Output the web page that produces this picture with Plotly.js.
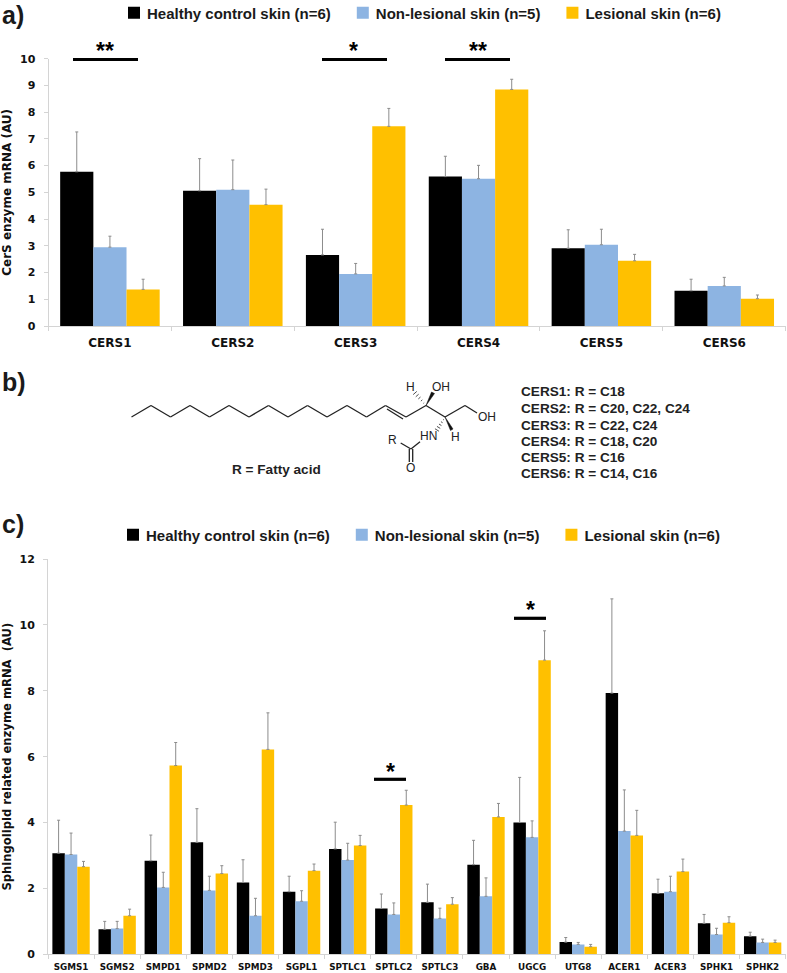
<!DOCTYPE html>
<html><head><meta charset="utf-8">
<script src="https://cdn.plot.ly/plotly-3.0.1.min.js"></script>
<style>html,body{margin:0;padding:0;background:#fff}#c{width:787px;height:973px}</style>
</head><body><div id="c"></div>
<script>
const seriesNames = ['Healthy control skin (n=6)','Non-lesional skin (n=5)','Lesional skin (n=6)'];
const seriesColors = ['#000000','#8DB4E2','#FFC000'];

const cersCategories = ['CERS1','CERS2','CERS3','CERS4','CERS5','CERS6'];
const cersHealthy = [5.77,5.06,2.66,5.59,2.91,1.32];
const cersHealthyTop = [7.26,6.26,3.62,6.35,3.60,1.75];
const cersNonLesional = [2.95,5.10,1.95,5.51,3.04,1.50];
const cersNonLesionalTop = [3.36,6.21,2.34,6.01,3.62,1.82];
const cersLesional = [1.37,4.54,7.47,8.85,2.44,1.02];
const cersLesionalTop = [1.75,5.12,8.14,9.23,2.68,1.16];

const sphCategories = ['SGMS1','SGMS2','SMPD1','SPMD2','SPMD3','SGPL1','SPTLC1','SPTLC2','SPTLC3','GBA','UGCG','UTG8','ACER1','ACER3','SPHK1','SPHK2'];
const sphHealthy = [3.07,0.76,2.84,3.40,2.18,1.90,3.20,1.39,1.58,2.72,4.00,0.37,7.93,1.85,0.94,0.55];
const sphHealthyTop = [4.07,1.00,3.62,4.42,2.87,2.37,4.01,1.83,2.13,3.46,5.37,0.51,10.79,2.28,1.21,0.67];
const sphNonLesional = [3.03,0.78,2.03,1.94,1.17,1.61,2.86,1.21,1.09,1.76,3.55,0.30,3.74,1.90,0.60,0.36];
const sphNonLesionalTop = [3.68,1.00,2.49,2.37,1.70,1.93,3.37,1.56,1.40,2.32,4.05,0.36,4.99,2.37,0.79,0.46];
const sphLesional = [2.66,1.17,5.73,2.45,6.22,2.54,3.30,4.53,1.52,4.17,8.93,0.23,3.61,2.51,0.96,0.36];
const sphLesionalTop = [2.82,1.37,6.43,2.69,7.33,2.74,3.61,4.98,1.72,4.58,9.82,0.30,4.37,2.89,1.14,0.43];

const W = 787, H = 973;
const px = x => x / W, py = y => 1 - y / H;
const sans = 'Liberation Sans, Arial, sans-serif';
const wide = 'DejaVu Sans, sans-serif';

function bars(name, i, cats, vals, tops, xa, ya, legend, show){
  return {type:'bar', name, x:cats, y:vals, xaxis:xa, yaxis:ya, legend, showlegend:show,
    marker:{color:seriesColors[i]},
    error_y:{type:'data', symmetric:false, array:tops.map((t,k)=>+(t-vals[k]).toFixed(2)),
      arrayminus:vals.map(()=>0), color:'#8c8c8c', thickness:1, width:1.5}};
}
const traces = [
  bars(seriesNames[0],0,cersCategories,cersHealthy,cersHealthyTop,'x','y','legend',true),
  bars(seriesNames[1],1,cersCategories,cersNonLesional,cersNonLesionalTop,'x','y','legend',true),
  bars(seriesNames[2],2,cersCategories,cersLesional,cersLesionalTop,'x','y','legend',true),
  bars(seriesNames[0],0,sphCategories,sphHealthy,sphHealthyTop,'x2','y2','legend2',true),
  bars(seriesNames[1],1,sphCategories,sphNonLesional,sphNonLesionalTop,'x2','y2','legend2',true),
  bars(seriesNames[2],2,sphCategories,sphLesional,sphLesionalTop,'x2','y2','legend2',true)
];

const axisBase = {showgrid:false, zeroline:false, showline:true, linecolor:'#d4d4d4', linewidth:1,
  ticks:'outside', ticklen:4, tickcolor:'#d4d4d4', tickwidth:1};

const sigBars = [[73,138,59.5],[322,387,59.5],[445,510,59.5],[374,406,779.3],[514,546,618.3]];
const sigStars = [['**',105,51],['*',353,51],['**',478,51],['*',390,772],['*',530,610]];
const line = (x0,y0,x1,y1,w=1.3,c='#222') => ({type:'line',xref:'paper',yref:'paper',x0:px(x0),y0:py(y0),x1:px(x1),y1:py(y1),line:{color:c,width:w}});
const poly = pts => ({type:'path',xref:'paper',yref:'paper',
  path:'M'+pts.map(p=>px(p[0])+','+py(p[1])).join(' L')+' Z',fillcolor:'#111',line:{color:'#111',width:0.5}});

const chainX = [131.5,151,170.5,190,209.5,229,249,268.5,288,307.5,327,347,366.5,385.5,406,426,445,465];
const chainShapes = [];
chainX.forEach((x,i)=>{ if(i<chainX.length-1){
  const yA = i%2===0?417:405.5, yB = i%2===0?405.5:417;
  chainShapes.push(line(x,yA,chainX[i+1],yB));
}});
const hash = (x0,y0,x1,y1,n) => { const out=[]; for(let k=1;k<=n;k++){const t=k/n, mx=x0+(x1-x0)*t, my=y0+(y1-y0)*t, dx=-(y1-y0), dy=(x1-x0), L=Math.hypot(dx,dy), s=t*2.4;
  out.push(line(mx-dx/L*s,my-dy/L*s,mx+dx/L*s,my+dy/L*s,0.8));} return out; };
const molecule = [
  ...chainShapes,
  line(387,409,403,419),
  line(465,405.5,477,413),
  poly([[426,405.5],[431.5,392],[434.5,393.5]]),
  ...hash(426,405.5,415,393,5),
  ...hash(445,417,437,430,5),
  poly([[445,417],[453,429],[450.5,430.5]]),
  line(420,441.7,411,449),
  line(400.7,443,411,449),
  line(409.3,449,409.3,462),
  line(412.7,449,412.7,462)
];
const molText = [['H',410,386.7,12],['OH',440.7,386.7,12],['OH',487,417,12],['HN',428,436,12],['H',455.7,436.7,12],['R',392.7,440,12],['O',410.7,468,12]];

const rows = ['CERS1: R = C18','CERS2: R = C20, C22, C24','CERS3: R = C22, C24','CERS4: R = C18, C20','CERS5: R = C16','CERS6: R = C14, C16'];
const rowY = [392,408.5,425,441.5,458,474];

const txt = (t,x,y,size,font,anchor='left',color='#1a1a1a') => ({text:t,xref:'paper',yref:'paper',x:px(x),y:py(y),showarrow:false,
  xanchor:anchor,yanchor:'middle',font:{family:font,size,color}});

const annotations = [
  txt('<b>a)</b>',0,15,25,sans),
  txt('<b>b)</b>',0,382,25,sans),
  txt('<b>c)</b>',0,524,25,sans),
  ...sigStars.map(s=>txt('<b>'+s[0]+'</b>',s[1],s[2],23,sans,'center','#000')),
  ...molText.map(m=>txt(m[0],m[1],m[2],m[3],sans,'center','#222')),
  ...rows.map((r,i)=>txt('<b>'+r+'</b>',519,rowY[i],13.6,sans,'left','#222')),
  txt('<b>R = Fatty acid</b>',230,469,13.6,sans,'left','#222')
];

const legendBase = {orientation:'h', xanchor:'left', yanchor:'middle', bgcolor:'rgba(0,0,0,0)',
  font:{family:sans,size:15,color:'#1a1a1a',weight:'bold'}, itemwidth:30, itemclick:false, itemdoubleclick:false,
  traceorder:'normal', tracegroupgap:0};

const layout = {
  width:W, height:H, margin:{l:0,r:0,t:0,b:0,autoexpand:false}, paper_bgcolor:'#fff', plot_bgcolor:'#fff',
  barmode:'group', bargap:0.19, bargroupgap:0, showlegend:true,
  xaxis:{...axisBase, domain:[px(48.5),px(785.7)], anchor:'y', type:'category', tickson:'boundaries', ticklabelstandoff:6,
    tickfont:{family:wide,size:12,color:'#111',weight:'bold'}},
  yaxis:{...axisBase, domain:[py(326),py(58.7)], anchor:'x', range:[0,10], dtick:1, ticklabelstandoff:6,
    tickfont:{family:wide,size:11,color:'#111',weight:'bold'},
    title:{text:'\u00A0\u00A0\u00A0<b>CerS enzyme mRNA (AU)</b>',standoff:8,font:{family:wide,size:12,color:'#111'}}},
  xaxis2:{...axisBase, domain:[px(48),px(785.7)], anchor:'y2', type:'category', tickson:'boundaries', ticklabelstandoff:4,
    tickfont:{family:wide,size:8.8,color:'#111',weight:'bold'}},
  yaxis2:{...axisBase, domain:[py(954.3),py(559)], anchor:'x2', range:[0,12], dtick:2, ticklabelstandoff:6,
    tickfont:{family:wide,size:11,color:'#111',weight:'bold'},
    title:{text:'\u00A0\u00A0\u00A0<b>Sphingolipid related enzyme mRNA  (AU)</b>',standoff:13,font:{family:wide,size:11.6,color:'#111'}}},
  legend:{...legendBase, x:px(107), y:py(13)},
  legend2:{...legendBase, x:px(106), y:py(535)},
  shapes:[...sigBars.map(b=>line(b[0],b[2],b[1],b[2],3.2,'#000')), ...molecule],
  annotations
};
Plotly.newPlot('c',traces,layout,{displayModeBar:false,staticPlot:true}).then(()=>{
  document.querySelectorAll('.legendsymbols').forEach(g=>g.setAttribute('transform','translate(7,0)'));
});
</script></body></html>
